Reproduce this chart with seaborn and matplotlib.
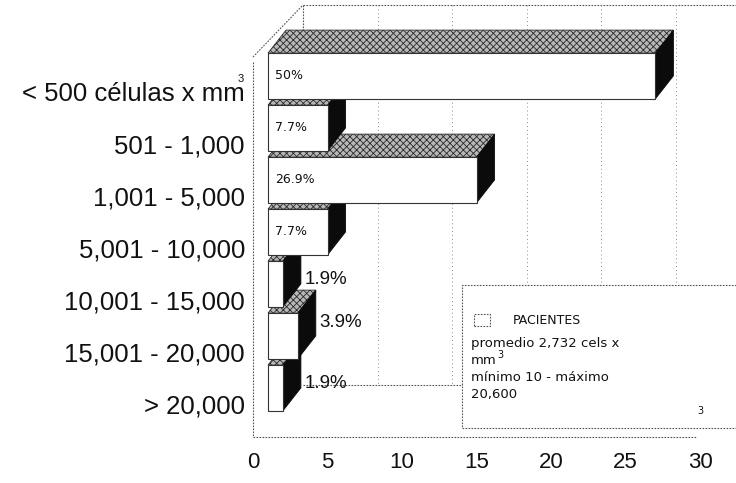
import matplotlib
matplotlib.use("Agg")
import matplotlib.pyplot as plt
from matplotlib.patches import Polygon, Rectangle
import pandas as pd
import seaborn as sns

# ---- data -------------------------------------------------------------
categories = ["< 500 células x mm", "501 - 1,000", "1,001 - 5,000",
              "5,001 - 10,000", "10,001 - 15,000", "15,001 - 20,000",
              "> 20,000"]
patients = [26, 4, 14, 4, 1, 2, 1]
pct_labels = ["50%", "7.7%", "26.9%", "7.7%", "1.9%", "3.9%", "1.9%"]
x_ticks = [0, 5, 10, 15, 20, 25, 30]
legend_title = "PACIENTES"
legend_lines = ["promedio 2,732 cels x", "mm", "mínimo 10 - máximo", "20,600"]

# ---- style --------------------------------------------------------------
sns.set_theme(style="white")
plt.rcParams["font.family"] = ["Liberation Sans", "DejaVu Sans"]
plt.rcParams["hatch.linewidth"] = 0.6

W, H = 736, 483
fig = plt.figure(figsize=(W / 100, H / 100), dpi=100)
fig.patch.set_facecolor("white")

# front plane of the 3D box (pixel geometry of the axes)
left_px, right_px, top_px, bottom_px = 253, 700, 57, 437
ax = fig.add_axes([left_px / W, 1 - bottom_px / H,
                   (right_px - left_px) / W, (bottom_px - top_px) / H])
ax.set_facecolor("none")

df = pd.DataFrame({"rango": categories, "pacientes": patients})
sns.barplot(data=df, x="pacientes", y="rango", orient="h", width=0.88,
            color="white", saturation=1, edgecolor="#333333", linewidth=0.8,
            errorbar=None, ax=ax)

y_top, y_bot = -0.673, 6.635
ax.set_xlim(0, 30)
ax.set_ylim(y_bot, y_top)
for s in ax.spines.values():
    s.set_visible(False)
ax.set_xlabel("")
ax.set_ylabel("")

# pixel -> data unit conversions
p00 = ax.transData.transform((0, 0))
sx = ax.transData.transform((1, 0))[0] - p00[0]
sy = p00[1] - ax.transData.transform((0, 1))[1]

def px_x(v):
    return v / sx

def px_y(v):  # upward pixels -> data offset (y axis is inverted)
    return -v / sy

# offsets of bar plane and back wall relative to the front plane
bar_dx, bar_dy = px_x(15), px_y(16)
back_dx, back_dy = px_x(50), px_y(52)
depth_dx, depth_dy = px_x(18), px_y(23)

line_kw = dict(color="#555555", lw=0.8, ls=(0, (1.5, 1.2)), clip_on=False)

# back wall: top edge, floor edge, gridlines, left corner
ax.plot([0 + back_dx, 31 + back_dx], [y_top + back_dy] * 2, zorder=1, **line_kw)
ax.plot([0 + back_dx, 31 + back_dx], [y_bot + back_dy] * 2, zorder=1, **line_kw)
for t in x_ticks[1:-1]:
    ax.plot([t + back_dx] * 2, [y_top + back_dy, y_bot + back_dy], zorder=1,
            color="#8a8a8a", lw=0.7, ls=(0, (1, 3)), clip_on=False)
ax.plot([back_dx] * 2, [y_top + back_dy, y_top + back_dy + 0.5], zorder=1, **line_kw)
# left wall top edge and front frame
ax.plot([0, back_dx], [y_top, y_top + back_dy], zorder=1, **line_kw)
ax.plot([0, 0], [y_top + 0.1, y_bot], zorder=1, **line_kw)
ax.plot([0, 29.8], [y_bot, y_bot], zorder=1, **line_kw)

# 3D bars: front face from seaborn, plus shaded top and black side faces
bars = sorted(ax.patches, key=lambda p: p.get_y())
for i, (bar, lab) in enumerate(zip(bars, pct_labels)):
    bar.set_x(bar.get_x() + bar_dx)
    bar.set_y(bar.get_y() + bar_dy)
    bar.set_clip_on(False)
    base = 20 - i
    bar.set_zorder(base + 0.2)
    x0, y0 = bar.get_x(), bar.get_y()
    w, h = bar.get_width(), bar.get_height()
    top = Polygon([(x0, y0), (x0 + w, y0), (x0 + w + depth_dx, y0 + depth_dy),
                   (x0 + depth_dx, y0 + depth_dy)], closed=True,
                  facecolor="#b8b8b8", edgecolor="#2a2a2a", hatch="xxxxx",
                  lw=0.6, zorder=base, clip_on=False)
    side = Polygon([(x0 + w, y0), (x0 + w, y0 + h),
                    (x0 + w + depth_dx, y0 + h + depth_dy),
                    (x0 + w + depth_dx, y0 + depth_dy)], closed=True,
                   facecolor="#0b0b0b", edgecolor="#0b0b0b", lw=0.6,
                   zorder=base + 0.1, clip_on=False)
    ax.add_patch(top)
    ax.add_patch(side)
    yc = y0 + h / 2
    if patients[i] >= 3:
        ax.text(x0 + px_x(7), yc, lab, ha="left", va="center",
                fontsize=9, family="DejaVu Sans", color="#111111",
                zorder=base + 0.3)
    else:
        nudge = {4: 4, 5: 13, 6: 4}.get(i, 4)
        ax.text(x0 + w + depth_dx + px_x(4), yc + px_y(nudge), lab,
                ha="left", va="center", fontsize=13.5, color="#111111",
                zorder=base + 0.3)

# axes ticks
ax.set_xticks(x_ticks)
ax.set_xticklabels([str(t) for t in x_ticks], fontsize=16, color="#111111")
ax.set_yticks(range(len(categories)))
ax.set_yticklabels(categories, fontsize=18.5, color="#111111")
ax.tick_params(axis="x", length=0, pad=11)
ax.tick_params(axis="y", length=0, pad=5.8)
ax.grid(False)
ax.annotate("3", xy=(0, 0), xytext=(-12, 13), textcoords="offset pixels",
            fontsize=8, ha="center", va="center", color="#111111",
            annotation_clip=False)

# legend box
def fx(px):
    return px / W

def fy(py):
    return 1 - py / H

fig.patches.append(Rectangle((fx(462), fy(428)), fx(745) - fx(462), fy(285) - fy(428),
                             transform=fig.transFigure, facecolor="white",
                             edgecolor="#555555", lw=0.8, ls=(0, (1.5, 1.2)),
                             zorder=5))
fig.patches.append(Rectangle((fx(474), fy(326)), fx(490) - fx(474), fy(314) - fy(326),
                             transform=fig.transFigure, facecolor="white",
                             edgecolor="#555555", lw=0.8, ls=(0, (1.5, 1.2)),
                             zorder=6))
leg_font = dict(family="DejaVu Sans", color="#111111", zorder=7)
fig.text(fx(513), fy(321), legend_title, fontsize=9, va="center", ha="left", **leg_font)
for k, line in enumerate(legend_lines):
    fig.text(fx(471), fy(343 + 17.3 * k), line, fontsize=9.5, va="center",
             ha="left", **leg_font)
fig.text(fx(497), fy(355), "3", fontsize=7, va="center", ha="left", **leg_font)
fig.text(fx(700), fy(411), "3", fontsize=7, va="center", ha="center", **leg_font)

fig.savefig("out.png", dpi=100, facecolor="white")
